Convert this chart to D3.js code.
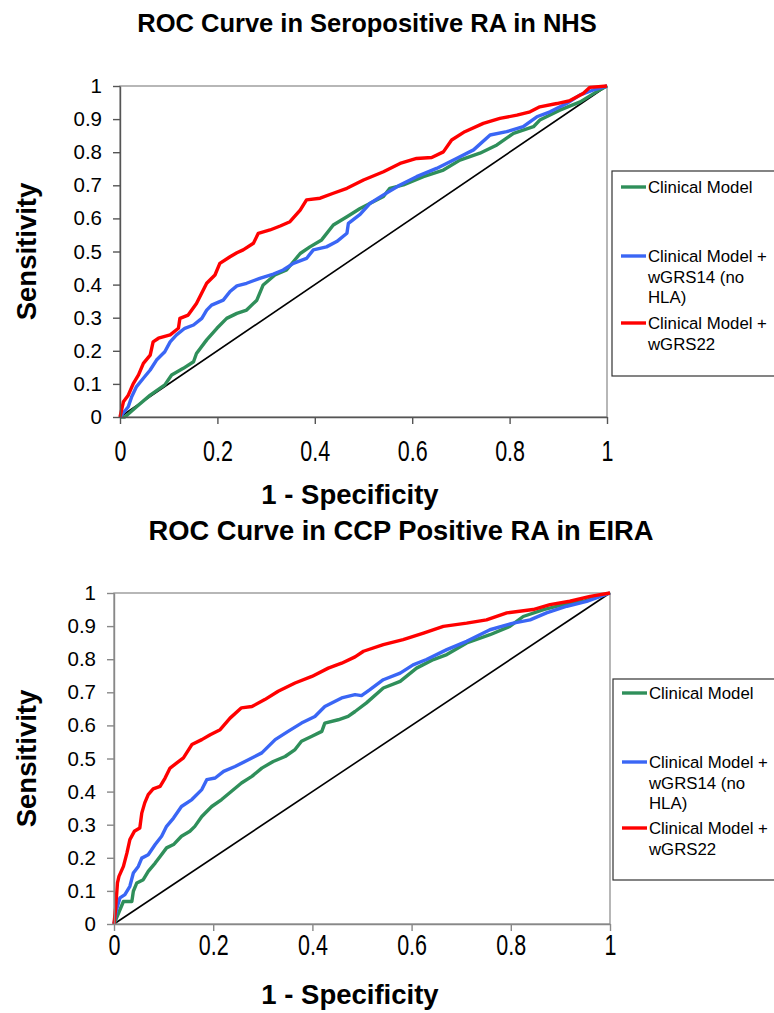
<!DOCTYPE html>
<html>
<head>
<meta charset="utf-8">
<script src="https://cdn.jsdelivr.net/npm/d3@7"></script>
<style>
  html, body { margin: 0; padding: 0; background: #fff; }
  svg { display: block; font-family: "Liberation Sans", Arial, sans-serif; }
</style>
</head>
<body>
<svg id="chart" width="774" height="1013"></svg>
<script>
// ---------- DATA ----------
const seriesNames = ["Clinical Model", "Clinical Model + wGRS14 (no HLA)", "Clinical Model + wGRS22"];
const seriesColors = ["#2f8f5a", "#3a66f5", "#ff0000"];
const xTickValues = [0, 0.2, 0.4, 0.6, 0.8, 1];
const yTickValues = [0, 0.1, 0.2, 0.3, 0.4, 0.5, 0.6, 0.7, 0.8, 0.9, 1];
const chartTitles = ["ROC Curve in Seropositive RA in NHS", "ROC Curve in CCP Positive RA in EIRA"];
const xAxisTitle = "1 - Specificity";
const yAxisTitle = "Sensitivity";

// NHS (top panel): [1 - specificity, sensitivity]
const nhsClinical = [[0,0],[0.01,0],[0.034,0.031],[0.062,0.066],[0.092,0.097],[0.106,0.127],[0.13,0.147],[0.151,0.167],[0.157,0.192],[0.178,0.233],[0.199,0.268],[0.219,0.298],[0.24,0.313],[0.26,0.323],[0.281,0.353],[0.294,0.399],[0.318,0.429],[0.342,0.444],[0.37,0.494],[0.39,0.514],[0.414,0.535],[0.438,0.58],[0.466,0.605],[0.493,0.63],[0.52,0.65],[0.541,0.666],[0.554,0.691],[0.582,0.701],[0.623,0.726],[0.664,0.746],[0.698,0.776],[0.739,0.797],[0.774,0.822],[0.808,0.857],[0.849,0.877],[0.862,0.897],[0.903,0.927],[0.945,0.952],[0.979,0.983],[1,1]];
const nhsWgrs14 = [[0,0],[0.017,0.031],[0.024,0.061],[0.034,0.092],[0.048,0.117],[0.062,0.142],[0.075,0.172],[0.092,0.197],[0.103,0.227],[0.116,0.248],[0.133,0.268],[0.151,0.278],[0.168,0.298],[0.178,0.323],[0.188,0.338],[0.212,0.353],[0.226,0.379],[0.24,0.396],[0.26,0.404],[0.287,0.419],[0.315,0.432],[0.335,0.444],[0.356,0.464],[0.383,0.479],[0.397,0.505],[0.424,0.514],[0.445,0.53],[0.466,0.555],[0.469,0.585],[0.493,0.612],[0.513,0.645],[0.541,0.671],[0.575,0.701],[0.609,0.726],[0.65,0.751],[0.691,0.781],[0.726,0.807],[0.76,0.852],[0.794,0.862],[0.828,0.877],[0.856,0.907],[0.883,0.922],[0.917,0.947],[0.945,0.973],[0.972,0.988],[1,1]];
const nhsWgrs22 = [[0,0],[0.007,0.046],[0.017,0.066],[0.027,0.10],[0.038,0.127],[0.048,0.162],[0.062,0.187],[0.068,0.227],[0.079,0.238],[0.103,0.248],[0.12,0.268],[0.123,0.298],[0.14,0.308],[0.157,0.343],[0.178,0.404],[0.195,0.429],[0.205,0.464],[0.226,0.484],[0.24,0.496],[0.253,0.505],[0.274,0.525],[0.284,0.555],[0.308,0.565],[0.329,0.577],[0.349,0.59],[0.37,0.625],[0.383,0.656],[0.411,0.661],[0.438,0.676],[0.466,0.691],[0.5,0.716],[0.541,0.741],[0.575,0.766],[0.609,0.781],[0.64,0.784],[0.664,0.801],[0.681,0.837],[0.708,0.862],[0.746,0.887],[0.78,0.902],[0.815,0.912],[0.842,0.922],[0.862,0.937],[0.897,0.947],[0.924,0.956],[0.951,0.977],[0.965,0.996],[1,1]];

// EIRA (bottom panel)
const eiraClinical = [[0,0],[0.012,0.043],[0.019,0.068],[0.036,0.068],[0.039,0.099],[0.046,0.124],[0.059,0.134],[0.069,0.159],[0.083,0.184],[0.093,0.204],[0.106,0.23],[0.12,0.24],[0.136,0.265],[0.153,0.28],[0.163,0.295],[0.177,0.325],[0.197,0.355],[0.217,0.376],[0.237,0.401],[0.257,0.426],[0.278,0.446],[0.298,0.471],[0.321,0.491],[0.345,0.506],[0.365,0.527],[0.378,0.552],[0.399,0.567],[0.419,0.582],[0.425,0.607],[0.452,0.617],[0.472,0.627],[0.486,0.642],[0.509,0.668],[0.543,0.713],[0.577,0.733],[0.61,0.773],[0.644,0.799],[0.671,0.814],[0.711,0.849],[0.758,0.874],[0.798,0.899],[0.825,0.929],[0.866,0.95],[0.906,0.965],[0.946,0.975],[1,1]];
const eiraWgrs14 = [[0,0],[0.005,0.043],[0.012,0.079],[0.022,0.089],[0.032,0.114],[0.039,0.154],[0.049,0.174],[0.056,0.199],[0.069,0.209],[0.083,0.24],[0.096,0.265],[0.106,0.295],[0.12,0.32],[0.136,0.355],[0.157,0.376],[0.177,0.406],[0.187,0.436],[0.204,0.441],[0.221,0.461],[0.244,0.476],[0.271,0.496],[0.298,0.517],[0.325,0.557],[0.351,0.582],[0.378,0.607],[0.405,0.627],[0.425,0.657],[0.459,0.683],[0.486,0.693],[0.499,0.69],[0.516,0.708],[0.543,0.738],[0.577,0.758],[0.603,0.783],[0.63,0.799],[0.671,0.829],[0.711,0.854],[0.758,0.889],[0.805,0.909],[0.839,0.919],[0.872,0.94],[0.913,0.96],[0.953,0.975],[1,1]];
const eiraWgrs22 = [[0,0],[0.003,0.043],[0.007,0.124],[0.01,0.144],[0.019,0.174],[0.026,0.214],[0.032,0.255],[0.041,0.28],[0.052,0.29],[0.056,0.335],[0.062,0.366],[0.069,0.391],[0.079,0.408],[0.093,0.416],[0.103,0.441],[0.113,0.471],[0.126,0.486],[0.14,0.502],[0.157,0.542],[0.177,0.557],[0.194,0.572],[0.214,0.587],[0.234,0.622],[0.257,0.653],[0.278,0.657],[0.304,0.678],[0.331,0.703],[0.365,0.728],[0.399,0.748],[0.432,0.773],[0.459,0.788],[0.486,0.807],[0.503,0.824],[0.543,0.844],[0.583,0.859],[0.624,0.879],[0.664,0.899],[0.711,0.909],[0.751,0.919],[0.792,0.94],[0.845,0.95],[0.879,0.965],[0.919,0.975],[0.96,0.99],[1,1]];

const refLine = [[0,0],[1,1]];

// ---------- LAYOUT ----------
const panels = [
  { title: chartTitles[0], series: [nhsClinical, nhsWgrs14, nhsWgrs22],
    left: 120, right: 607, top: 86, bottom: 417, axisColor: "#555",
    titleX: 367, titleY: 32, titleSize: 25.5,
    xTitleY: 504, yTitleX: 36, tickLabelY: 461,
    legend: { x: 612, y: 171, h: 205, rows: [187, 256, 323] } },
  { title: chartTitles[1], series: [eiraClinical, eiraWgrs14, eiraWgrs22],
    left: 114, right: 610, top: 593, bottom: 924, axisColor: "#888",
    titleX: 401, titleY: 540, titleSize: 27.3,
    xTitleY: 1004, yTitleX: 36, tickLabelY: 955,
    legend: { x: 613, y: 679, h: 201, rows: [693, 762, 828] } }
];

const legendLines = [["Clinical Model"], ["Clinical Model +", "wGRS14 (no", "HLA)"], ["Clinical Model +", "wGRS22"]];

const svg = d3.select("#chart");

panels.forEach(p => {
  const x = d3.scaleLinear().domain([0, 1]).range([p.left, p.right]);
  const y = d3.scaleLinear().domain([0, 1]).range([p.bottom, p.top]);
  const g = svg.append("g");

  // title
  g.append("text").attr("x", p.titleX).attr("y", p.titleY)
    .attr("text-anchor", "middle").attr("font-weight", "bold")
    .attr("font-size", p.titleSize).attr("fill", "#000").text(p.title);

  // plot-area frame (top/right)
  g.append("rect").attr("x", x(0)).attr("y", y(1))
    .attr("width", x(1) - x(0)).attr("height", y(0) - y(1))
    .attr("fill", "none").attr("stroke", "#888").attr("stroke-width", 1.2);

  // diagonal
  const line = d3.line().x(d => x(d[0])).y(d => y(d[1]));
  g.append("path").datum(refLine).attr("d", line)
    .attr("fill", "none").attr("stroke", "#000").attr("stroke-width", 1.6);

  // curves
  p.series.forEach((s, i) => {
    g.append("path").datum(s).attr("d", line)
      .attr("fill", "none").attr("stroke", seriesColors[i])
      .attr("stroke-width", 3.4).attr("stroke-linejoin", "round");
  });

  // axes
  const yAxis = g.append("g").attr("transform", `translate(${x(0)},0)`)
    .call(d3.axisLeft(y).tickValues(yTickValues).tickSize(7).tickSizeOuter(0).tickPadding(11).tickFormat(d => String(d)));
  yAxis.selectAll("path, line").attr("stroke", p.axisColor).attr("stroke-width", 1.4);
  yAxis.selectAll("text").attr("font-size", 20.5).attr("fill", "#000")
    .attr("font-family", "'Liberation Sans', Arial, sans-serif");

  const xAxis = g.append("g").attr("transform", `translate(0,${y(0)})`)
    .call(d3.axisBottom(x).tickValues(xTickValues).tickSize(7).tickSizeOuter(0).tickFormat(d => String(d)));
  xAxis.selectAll("path, line").attr("stroke", p.axisColor).attr("stroke-width", 1.4);
  xAxis.selectAll("text").remove();
  xAxis.selectAll(".tick").append("text")
    .attr("transform", `translate(0,${p.tickLabelY - y(0)}) scale(1,1.36)`)
    .attr("text-anchor", "middle").attr("font-size", 21.5).attr("fill", "#000")
    .attr("font-family", "'Liberation Sans', Arial, sans-serif")
    .text(d => String(d));

  // axis titles
  g.append("text").attr("x", 350).attr("y", p.xTitleY)
    .attr("text-anchor", "middle").attr("font-weight", "bold").attr("font-size", 27.5)
    .text(xAxisTitle);
  g.append("text")
    .attr("transform", `translate(${p.yTitleX},${(p.top + p.bottom) / 2}) rotate(-90)`)
    .attr("text-anchor", "middle").attr("font-weight", "bold").attr("font-size", 27.5)
    .text(yAxisTitle);

  // legend
  const L = p.legend;
  g.append("rect").attr("x", L.x).attr("y", L.y).attr("width", 200).attr("height", L.h)
    .attr("fill", "#fff").attr("stroke", "#333").attr("stroke-width", 1.2);
  seriesNames.forEach((name, i) => {
    const ry = L.rows[i];
    g.append("line").attr("x1", L.x + 9).attr("x2", L.x + 34).attr("y1", ry).attr("y2", ry)
      .attr("stroke", seriesColors[i]).attr("stroke-width", 3.4);
    const t = g.append("text").attr("x", L.x + 36).attr("y", ry + 6)
      .attr("font-size", 16.8).attr("fill", "#000");
    legendLines[i].forEach((ln, k) => {
      t.append("tspan").attr("x", L.x + 36).attr("dy", k === 0 ? 0 : 20.5).text(ln);
    });
  });
});
</script>
</body>
</html>
